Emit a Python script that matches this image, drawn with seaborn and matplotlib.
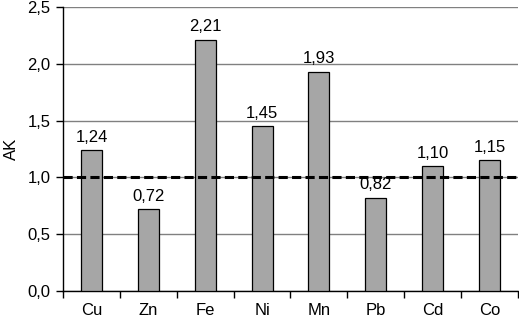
import matplotlib
matplotlib.use("Agg")
import matplotlib.pyplot as plt
import seaborn as sns
import pandas as pd
import numpy as np
from matplotlib.ticker import FixedLocator, FuncFormatter

elements = ["Cu", "Zn", "Fe", "Ni", "Mn", "Pb", "Cd", "Co"]
ak_values = [1.24, 0.72, 2.21, 1.45, 1.93, 0.82, 1.10, 1.15]
ylabel = "AK"
threshold = 1.0

sns.set_theme(style="white")
plt.rcParams["font.family"] = ["Liberation Sans", "DejaVu Sans"]

df = pd.DataFrame({"el": elements, "ak": ak_values})

fig = plt.figure(figsize=(5.19, 3.21), dpi=100)
ax = fig.add_axes([0.1214, 0.0935, 0.998 - 0.1214, 0.978 - 0.0935])

sns.barplot(data=df, x="el", y="ak", color="#a6a6a6", width=0.37,
            edgecolor="black", linewidth=0.9, saturation=1, ax=ax, zorder=3)

ax.set_xlim(-0.5, len(elements) - 0.5)
ax.set_ylim(0, 2.5)
ax.set_yticks(np.arange(0, 2.51, 0.5))
ax.yaxis.set_major_formatter(FuncFormatter(lambda v, p: f"{v:.1f}".replace(".", ",")))
ax.grid(axis="y", color="#808080", linewidth=1.0, zorder=0)
ax.set_axisbelow(True)

ax.axhline(threshold, color="black", linewidth=2.2, linestyle=(0, (3, 1.4)), zorder=4)

fs = 12
for container in ax.containers:
    ax.bar_label(container, labels=[f"{v:.2f}".replace(".", ",") for v in ak_values],
                 padding=4, fontsize=fs, color="black")

ax.set_xlabel("")
ax.set_ylabel(ylabel, fontsize=fs, color="black", labelpad=6)
ax.tick_params(axis="x", which="major", length=0, labelsize=fs, labelcolor="black", pad=9)
ax.xaxis.set_minor_locator(FixedLocator(np.arange(-0.5, len(elements), 1.0)))
ax.tick_params(axis="x", which="minor", length=5, width=1, color="black", direction="out", bottom=True)
ax.tick_params(axis="y", length=5, width=1, color="black", direction="out", left=True,
               labelsize=fs, labelcolor="black", pad=4)

for s in ["top", "right"]:
    ax.spines[s].set_visible(False)
for s in ["left", "bottom"]:
    ax.spines[s].set_color("black")
    ax.spines[s].set_linewidth(1.0)

fig.savefig("out.png", dpi=100)
